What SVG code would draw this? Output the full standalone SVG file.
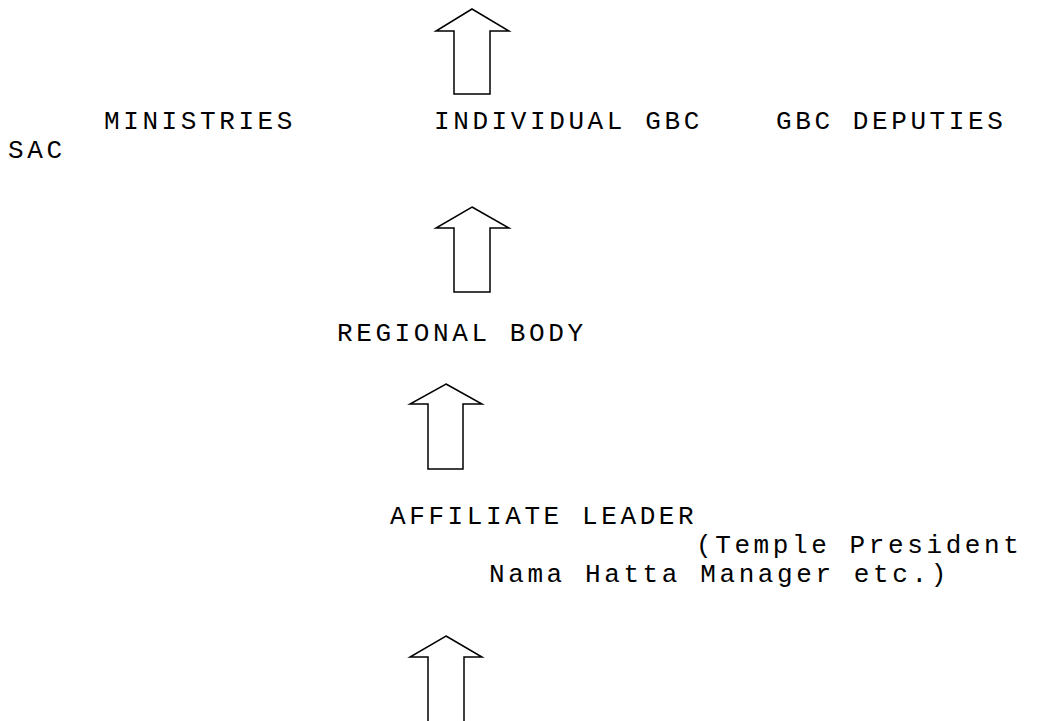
<svg xmlns="http://www.w3.org/2000/svg" width="1049" height="721" viewBox="0 0 1049 721">
<style>
text{font-family:"Liberation Mono","Courier New",monospace;font-size:26px;letter-spacing:3.6px;fill:#000}
.arrow{fill:#fff;stroke:#000;stroke-width:1.5;stroke-linejoin:miter}
</style>
<rect width="1049" height="721" fill="#fff"/>
<g id="connectors">
<polygon class="arrow" points="472,9 509,31 490,31 490,94 454,94 454,31 436,31"/>
<polygon class="arrow" points="472,207 509,228 490,228 490,292 454,292 454,228 436,228"/>
<polygon class="arrow" points="446,384 482,404 463,404 463,469 428,469 428,404 410,404"/>
<polygon class="arrow" points="446,636 482,657 464,657 464,722 428,722 428,657 410,657"/>
</g>
<g id="ministries"><text x="104" y="129">MINISTRIES</text></g>
<g id="individual-gbc"><text x="434" y="129">INDIVIDUAL GBC</text></g>
<g id="gbc-deputies"><text x="776" y="129">GBC DEPUTIES</text></g>
<g id="sac"><text x="8" y="158">SAC</text></g>
<g id="regional-body"><text x="337" y="341">REGIONAL BODY</text></g>
<g id="affiliate-leader"><text x="390" y="524">AFFILIATE LEADER</text>
<text x="696" y="553">(Temple President</text>
<text x="489" y="582">Nama Hatta Manager etc.)</text></g>
</svg>
